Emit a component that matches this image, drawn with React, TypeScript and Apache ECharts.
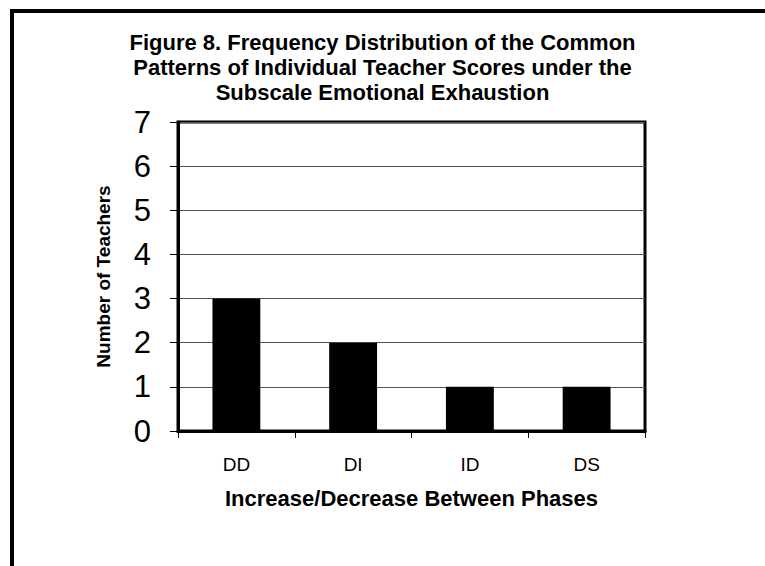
import React, { useEffect, useRef } from "react";
import * as echarts from "echarts";

const titleLines = [
  "Figure 8. Frequency Distribution of the Common",
  "Patterns of Individual Teacher Scores under the",
  "Subscale Emotional Exhaustion",
];
const categories = ["DD", "DI", "ID", "DS"];
const teacherCounts = [3, 2, 1, 1];
const yAxisTitle = "Number of Teachers";
const xAxisTitle = "Increase/Decrease Between Phases";

const FONT = "Liberation Sans, Arial, sans-serif";

export default function App() {
  const ref = useRef<HTMLDivElement>(null);
  useEffect(() => {
    if (!ref.current) return;
    const chart = echarts.init(ref.current, null, { renderer: "svg" });
    chart.setOption({
      animation: false,
      backgroundColor: "#ffffff",
      textStyle: { fontFamily: FONT, color: "#000" },
      title: {
        text: titleLines.join("\n"),
        left: "center",
        top: 30,
        padding: 0,
        textStyle: {
          fontFamily: FONT,
          fontSize: 22,
          fontWeight: "bold",
          lineHeight: 25,
          color: "#000",
        },
      },
      graphic: [
        {
          type: "rect",
          shape: { x: 12, y: 11, width: 800, height: 600 },
          style: { fill: "none", stroke: "#000", lineWidth: 4 },
          silent: true,
        },
      ],
      grid: {
        left: 178,
        top: 122,
        width: 467,
        height: 309,
        show: true,
        borderColor: "#000",
        borderWidth: 3,
        backgroundColor: "transparent",
      },
      xAxis: {
        type: "category",
        data: categories,
        axisLine: { show: true, lineStyle: { color: "#000", width: 3 } },
        axisTick: { show: true, length: 7, lineStyle: { color: "#000", width: 1 } },
        axisLabel: {
          fontSize: 19,
          color: "#000",
          margin: 24,
          fontFamily: FONT,
        },
        name: xAxisTitle,
        nameLocation: "middle",
        nameGap: 56,
        nameTextStyle: {
          fontSize: 22,
          fontWeight: "bold",
          color: "#000",
          fontFamily: FONT,
        },
      },
      yAxis: {
        type: "value",
        min: 0,
        max: 7,
        interval: 1,
        axisLine: { show: true, lineStyle: { color: "#000", width: 3 } },
        axisTick: { show: true, length: 8, lineStyle: { color: "#000", width: 1 } },
        axisLabel: {
          fontSize: 31,
          color: "#000",
          margin: 27,
          fontFamily: FONT,
        },
        splitLine: { show: true, lineStyle: { color: "#555", width: 1 } },
        name: yAxisTitle,
        nameLocation: "middle",
        nameGap: 65,
        nameTextStyle: {
          fontSize: 19,
          fontWeight: "bold",
          color: "#000",
          fontFamily: FONT,
        },
      },
      series: [
        {
          type: "bar",
          data: teacherCounts,
          barWidth: "41%",
          itemStyle: { color: "#000" },
        },
      ],
    });
    return () => chart.dispose();
  }, []);
  return (
    <div
      ref={ref}
      style={{ position: "fixed", left: 0, top: 0, width: 765, height: 566 }}
    />
  );
}
